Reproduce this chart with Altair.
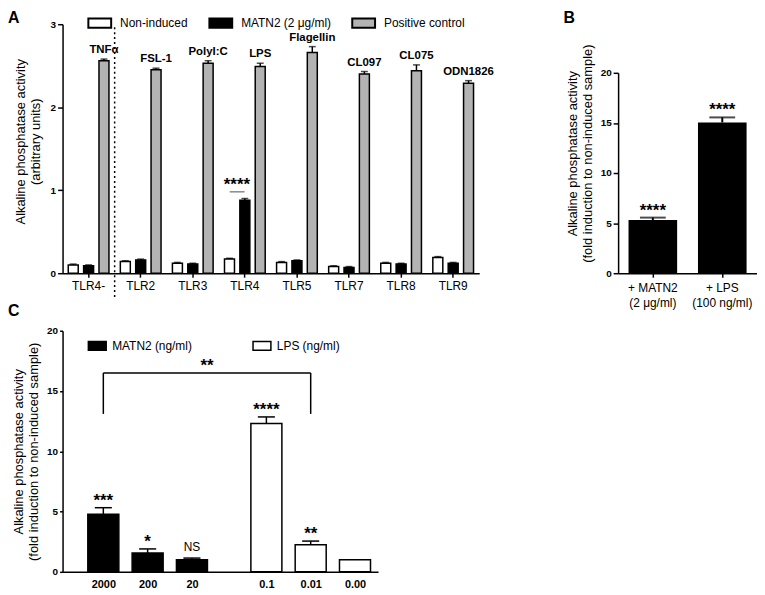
import altair as alt
import pandas as pd

FONT = "Liberation Sans"

# ---------------- Panel A data ----------------
tlr_groups = ["TLR4-", "TLR2", "TLR3", "TLR4", "TLR5", "TLR7", "TLR8", "TLR9"]
ligands = ["TNFα", "FSL-1", "PolyI:C", "LPS", "Flagellin", "CL097", "CL075", "ODN1826"]
series_a = ["Non-induced", "MATN2 (2 μg/ml)", "Positive control"]
a_non_induced = [0.10, 0.14, 0.12, 0.17, 0.13, 0.08, 0.12, 0.19]
a_non_induced_err = [0.01, 0.01, 0.01, 0.01, 0.01, 0.01, 0.01, 0.01]
a_matn2 = [0.09, 0.16, 0.11, 0.88, 0.15, 0.07, 0.11, 0.12]
a_matn2_err = [0.01, 0.01, 0.01, 0.02, 0.01, 0.01, 0.01, 0.01]
a_positive = [2.56, 2.45, 2.53, 2.49, 2.66, 2.40, 2.44, 2.29]
a_positive_err = [0.02, 0.02, 0.03, 0.04, 0.07, 0.03, 0.07, 0.03]
a_sig_group = "TLR4"
a_sig_level = 0.98
a_sig_label = "****"

# ---------------- Panel B data ----------------
b_conditions = ["+ MATN2\n(2 μg/ml)", "+ LPS\n(100 ng/ml)"]
b_values = [5.3, 15.05]
b_err = [0.25, 0.5]
b_sig = ["****", "****"]

# ---------------- Panel C data ----------------
c_labels = ["2000", "200", "20", "0.1", "0.01", "0.00"]
c_groups = ["MATN2 (ng/ml)", "MATN2 (ng/ml)", "MATN2 (ng/ml)",
            "LPS (ng/ml)", "LPS (ng/ml)", "LPS (ng/ml)"]
c_group_names = ["MATN2 (ng/ml)", "LPS (ng/ml)"]
c_values = [4.77, 1.56, 1.0, 12.3, 2.25, 1.0]
c_err = [0.55, 0.34, 0.14, 0.55, 0.30, 0.0]
c_sig = ["***", "*", "NS", "****", "**", ""]
c_bracket_from = "2000"
c_bracket_to = "0.01"
c_bracket_level = 16.5
c_bracket_foot = 13.1
c_bracket_label = "**"

STAR_SIZE = 17
STAR_DY = -2

# ================= Panel A =================
rows = []
for i, g in enumerate(tlr_groups):
    for s, vals, errs in zip(series_a,
                             [a_non_induced, a_matn2, a_positive],
                             [a_non_induced_err, a_matn2_err, a_positive_err]):
        rows.append({"tlr": g, "series": s, "value": vals[i],
                     "hi": vals[i] + errs[i], "ligand": ligands[i]})
df_a = pd.DataFrame(rows)

xa = alt.X("tlr:N", sort=tlr_groups,
           scale=alt.Scale(domain=tlr_groups, paddingInner=0, paddingOuter=0),
           axis=alt.Axis(title=None, labelAngle=0, labelFontSize=12,
                         tickSize=4, labelPadding=3))
xoa = alt.XOffset("series:N", sort=series_a,
                  scale=alt.Scale(domain=series_a, paddingInner=0.35, paddingOuter=0.37))
ya_scale = alt.Scale(domain=[0, 3])

base_a = alt.Chart(df_a)
bars_a = base_a.mark_bar(stroke="black", strokeWidth=1.5).encode(
    x=xa, xOffset=xoa,
    y=alt.Y("value:Q", scale=ya_scale,
            axis=alt.Axis(values=[0, 1, 2, 3], format="d", labelFontWeight="bold",
                          labelFontSize=10, tickSize=5,
                          title=["Alkaline phosphatase activity", "(arbitrary units)"],
                          titleFontSize=13, titleFontWeight="normal",
                          titlePadding=8, titleLineHeight=15, titleY=118)),
    fill=alt.Fill("series:N", sort=series_a,
                  scale=alt.Scale(domain=series_a, range=["white", "black", "#b3b3b3"]),
                  legend=alt.Legend(orient="none", legendX=25, legendY=-14,
                                    direction="horizontal", title=None,
                                    symbolType="M-1,-0.4H1V0.4H-1Z", symbolSize=529,
                                    symbolStrokeColor="black", symbolStrokeWidth=2,
                                    labelFont=FONT, labelFontSize=12, labelOffset=8,
                                    columnPadding=17, labelColor="black")),
)
err_a = base_a.mark_rule(color="black", strokeWidth=1.5).encode(
    x=xa, xOffset=xoa, y=alt.Y("value:Q", scale=ya_scale), y2="hi:Q")
cap_a = base_a.mark_tick(color="black", thickness=1.5, size=7).encode(
    x=xa, xOffset=xoa, y=alt.Y("hi:Q", scale=ya_scale))
lig_a = base_a.transform_filter(alt.datum.series == series_a[2]).mark_text(
    font=FONT, fontSize=11.5, fontWeight="bold", baseline="bottom", dy=-4).encode(
    x=xa, xOffset=xoa, y=alt.Y("hi:Q", scale=ya_scale), text="ligand:N")

sig_df_a = pd.DataFrame({"tlr": [a_sig_group], "y": [a_sig_level], "label": [a_sig_label]})
sig_line_a = alt.Chart(sig_df_a).mark_tick(color="black", thickness=1, size=15, xOffset=-7.75).encode(
    x=xa, y=alt.Y("y:Q", scale=ya_scale))
sig_text_a = alt.Chart(sig_df_a).mark_text(font=FONT, fontSize=STAR_SIZE, fontWeight="bold",
                                          baseline="alphabetic", dx=-8, dy=STAR_DY).encode(
    x=xa, y=alt.Y("y:Q", scale=ya_scale), text="label:N")

divider_a = alt.Chart(pd.DataFrame({"tlr": [tlr_groups[1]]})).mark_rule(
    color="black", strokeWidth=1.5, strokeDash=[2, 3]).encode(
    x=alt.X("tlr:N", sort=tlr_groups, bandPosition=0,
            scale=alt.Scale(domain=tlr_groups, paddingInner=0, paddingOuter=0)),
    y=alt.value(3), y2=alt.value(276))

letter_a = alt.Chart(pd.DataFrame({"t": ["A"]})).mark_text(
    font=FONT, fontSize=16, fontWeight="bold", align="left", baseline="top").encode(
    x=alt.value(-55), y=alt.value(-14), text="t:N")

panel_a = alt.layer(bars_a, err_a, cap_a, lig_a, sig_line_a, sig_text_a, divider_a, letter_a
                    ).properties(width=420, height=251)

# ================= Panel B =================
df_b = pd.DataFrame({"cond": b_conditions, "value": b_values,
                     "hi": [v + e for v, e in zip(b_values, b_err)], "sig": b_sig})
xb = alt.X("cond:N", sort=b_conditions,
           scale=alt.Scale(domain=b_conditions, paddingInner=0.3, paddingOuter=0.15),
           axis=alt.Axis(title=None, labelAngle=0, labelFontSize=12, tickSize=4,
                         labelPadding=5, labelLineHeight=16,
                         labelExpr="split(datum.label, '\\n')"))
yb_scale = alt.Scale(domain=[0, 20], range=[251, 49])
base_b = alt.Chart(df_b)
bars_b = base_b.mark_bar(color="black").encode(
    x=xb,
    y=alt.Y("value:Q", scale=yb_scale,
            axis=alt.Axis(values=[0, 5, 10, 15, 20], format="d", labelFontWeight="bold",
                          labelFontSize=10, tickSize=5,
                          title=["Alkaline phosphatase activity",
                                 "(fold induction to non-induced sample)"],
                          titleFontSize=13, titleFontWeight="normal",
                          titlePadding=6, titleLineHeight=15, titleY=130)))
err_b = base_b.mark_rule(color="black", strokeWidth=2).encode(
    x=xb, y=alt.Y("value:Q", scale=yb_scale), y2="hi:Q")
cap_b = base_b.mark_tick(color="black", thickness=2, size=26).encode(
    x=xb, y=alt.Y("hi:Q", scale=yb_scale))
sig_b = base_b.mark_text(font=FONT, fontSize=STAR_SIZE, fontWeight="bold",
                         baseline="alphabetic", dy=STAR_DY).encode(
    x=xb, y=alt.Y("hi:Q", scale=yb_scale), text="sig:N")
letter_b = alt.Chart(pd.DataFrame({"t": ["B"]})).mark_text(
    font=FONT, fontSize=16, fontWeight="bold", align="left", baseline="top").encode(
    x=alt.value(-55), y=alt.value(-14), text="t:N")
panel_b = alt.layer(bars_b, err_b, cap_b, sig_b, letter_b).properties(width=140, height=251)

# ================= Panel C =================
STEP = 100
GROUP_GAP = 68
HALF_BAR = 35
c_pos = []
for i, g in enumerate(c_groups):
    extra = GROUP_GAP if g == c_group_names[1] else 0
    c_pos.append(i * STEP + extra)
df_c = pd.DataFrame({"pos": c_pos, "label": c_labels, "group": c_groups,
                     "value": c_values,
                     "hi": [v + e for v, e in zip(c_values, c_err)],
                     "err": c_err, "sig": c_sig})
label_expr = "[" + ",".join(f"'{l}'" for l in c_labels) + "][indexof([" + \
    ",".join(str(p) for p in c_pos) + "], datum.value)]"
xc_scale = alt.Scale(domain=[-92, 620], nice=False, zero=False)
xc_axis = alt.Axis(values=c_pos, labelExpr=label_expr, ticks=False, title=None,
                   labelFontWeight="bold", labelFontSize=11, labelPadding=7,
                   labelOverlap=False, labelFlush=False, grid=False)
yc_scale = alt.Scale(domain=[0, 20])
base_c = alt.Chart(df_c).transform_calculate(
    x0=f"datum.pos - {HALF_BAR}", x1=f"datum.pos + {HALF_BAR}")
bars_c = base_c.mark_bar(stroke="black", strokeWidth=1.5).encode(
    x=alt.X("x0:Q", scale=xc_scale, axis=xc_axis), x2="x1:Q",
    y=alt.Y("value:Q", scale=yc_scale,
            axis=alt.Axis(values=[0, 2.5, 5, 7.5, 10, 12.5, 15, 17.5, 20], format="~g",
                          labelFontWeight="bold", labelFontSize=10, tickSize=3,
                          title=["Alkaline phosphatase activity",
                                 "(fold induction to non-induced sample)"],
                          titleFontSize=13, titleFontWeight="normal",
                          titlePadding=6, titleLineHeight=15)),
    y2=alt.datum(0),
    fill=alt.Fill("group:N", sort=c_group_names,
                  scale=alt.Scale(domain=c_group_names, range=["black", "white"]),
                  legend=alt.Legend(orient="none", legendX=25, legendY=5,
                                    direction="horizontal", title=None,
                                    symbolType="M-1,-0.5H1V0.5H-1Z", symbolSize=324,
                                    symbolStrokeColor="black", symbolStrokeWidth=1.5,
                                    labelFont=FONT, labelFontSize=12, labelOffset=5,
                                    columnPadding=58, labelColor="black")))
err_c = base_c.transform_filter(alt.datum.err > 0).mark_rule(color="black", strokeWidth=1.5).encode(
    x=alt.X("pos:Q", scale=xc_scale), y=alt.Y("value:Q", scale=yc_scale), y2="hi:Q")
cap_c = base_c.transform_filter(alt.datum.err > 0).transform_calculate(
    c0=f"datum.pos - {HALF_BAR * 0.55}", c1=f"datum.pos + {HALF_BAR * 0.55}").mark_rule(
    color="black", strokeWidth=1.5).encode(
    x=alt.X("c0:Q", scale=xc_scale), x2="c1:Q", y=alt.Y("hi:Q", scale=yc_scale))
sig_c = base_c.transform_filter(alt.datum.sig != "NS").mark_text(
    font=FONT, fontSize=STAR_SIZE, fontWeight="bold", baseline="alphabetic", dy=STAR_DY).encode(
    x=alt.X("pos:Q", scale=xc_scale), y=alt.Y("hi:Q", scale=yc_scale), text="sig:N")
ns_c = base_c.transform_filter(alt.datum.sig == "NS").mark_text(
    font=FONT, fontSize=12, baseline="bottom", dy=-4).encode(
    x=alt.X("pos:Q", scale=xc_scale), y=alt.Y("hi:Q", scale=yc_scale), text="sig:N")

p_from = c_pos[c_labels.index(c_bracket_from)]
p_to = c_pos[c_labels.index(c_bracket_to)]
bracket_df = pd.DataFrame({"xa": [p_from, p_from, p_to], "xb": [p_to, p_from, p_to],
                           "ya": [c_bracket_level, c_bracket_foot, c_bracket_foot],
                           "yb": [c_bracket_level, c_bracket_level, c_bracket_level]})
bracket_c = alt.Chart(bracket_df).mark_rule(color="black", strokeWidth=1.5).encode(
    x=alt.X("xa:Q", scale=xc_scale), x2="xb:Q",
    y=alt.Y("ya:Q", scale=yc_scale), y2="yb:Q")
bracket_text = alt.Chart(pd.DataFrame({"x": [(p_from + p_to) / 2], "y": [c_bracket_level],
                                       "t": [c_bracket_label]})).mark_text(
    font=FONT, fontSize=STAR_SIZE, fontWeight="bold", baseline="alphabetic", dy=STAR_DY).encode(
    x=alt.X("x:Q", scale=xc_scale), y=alt.Y("y:Q", scale=yc_scale), text="t:N")
letter_c = alt.Chart(pd.DataFrame({"t": ["C"]})).mark_text(
    font=FONT, fontSize=16, fontWeight="bold", align="left", baseline="top").encode(
    x=alt.value(-55), y=alt.value(-28), text="t:N")

panel_c = alt.layer(bars_c, err_c, cap_c, sig_c, ns_c, bracket_c, bracket_text, letter_c
                    ).properties(width=318, height=243)

chart = alt.concat(panel_a, panel_b, panel_c, columns=2,
                   spacing={"row": 58, "column": 140}, bounds="flush").resolve_scale(
    fill="independent"
).resolve_legend(fill="independent").properties(
    padding=0
).configure_view(stroke=None).configure_axis(
    domainColor="black", domainWidth=1.5, tickColor="black", tickWidth=1.5,
    labelColor="black", titleColor="black", labelFont=FONT, titleFont=FONT, grid=False
).configure_text(font=FONT, color="black")

chart.save("out.html", embed_options={"renderer": "svg", "actions": False})
